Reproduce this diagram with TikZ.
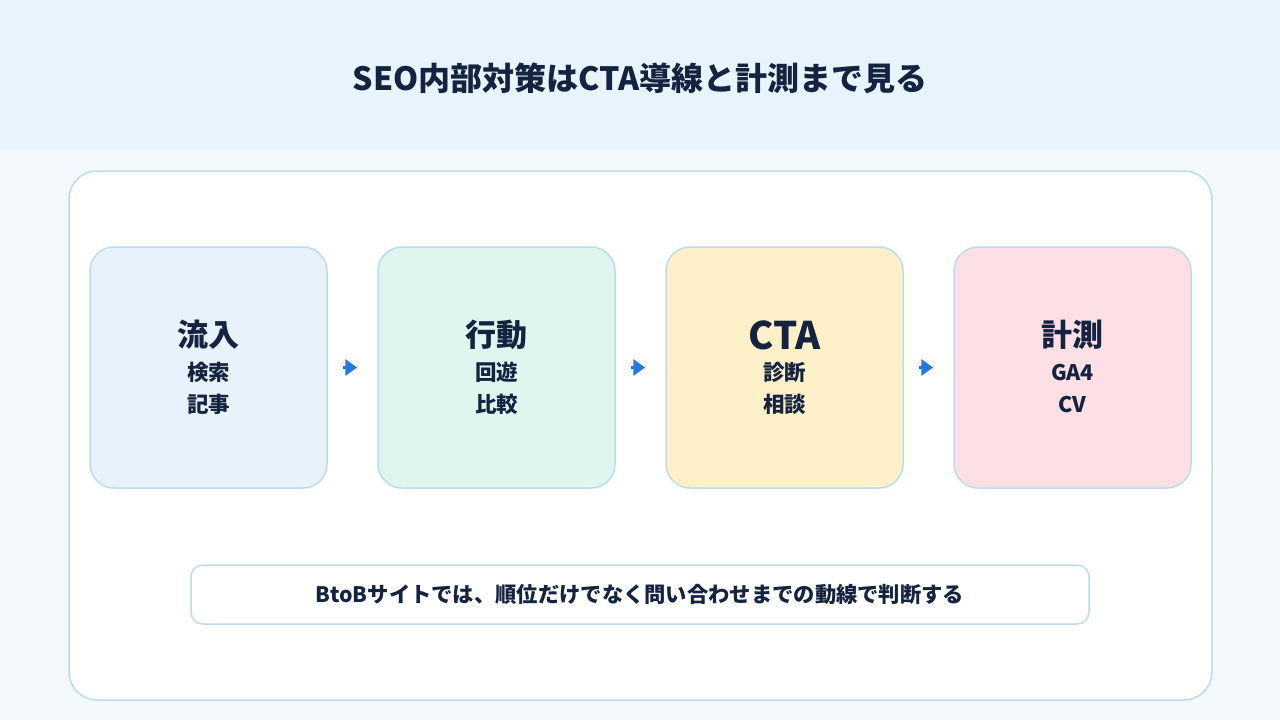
\documentclass[tikz,border=0pt]{standalone}
\usepackage{fontspec}
\setmainfont{Noto Sans CJK JP}
\usetikzlibrary{arrows.meta}

\definecolor{encre}{HTML}{14233F}
\definecolor{bandeau}{HTML}{E7F4FE}
\definecolor{fond}{HTML}{F4F9FD}
\definecolor{bord}{HTML}{BCDCEB}
\definecolor{fleche}{HTML}{2775E3}
\definecolor{bleuc}{HTML}{E8F2FD}
\definecolor{vertc}{HTML}{DFF6EF}
\definecolor{jaunec}{HTML}{FEF0C9}
\definecolor{rosec}{HTML}{FDE0E5}

\begin{document}
\begin{tikzpicture}[x=1pt, y=-1pt]

	% fond et bandeau du titre
	\fill[fond] (0,0) rectangle (1280,720);
	\fill[bandeau] (0,0) rectangle (1280,150);
	\useasboundingbox (0,0) rectangle (1280,720);

	\node[font=\fontsize{32}{36}\selectfont\bfseries, text=encre] (titre) at (640,78)
		{SEO内部対策はCTA導線と計測まで見る};

	% grand panneau blanc
	\draw[bord, fill=white, line width=1.5pt, rounded corners=28pt] (69,171) rectangle (1212,700);

	\tikzset{
		etape/.style={draw=bord, line width=1.5pt, rounded corners=24pt,
				minimum width=237pt, minimum height=241pt, inner sep=0pt},
		titreetape/.style={text=encre, font=\bfseries},
		sous/.style={text=encre, font=\fontsize{21.5}{24}\selectfont\bfseries},
		flux/.style={fleche, line width=3pt, -{Triangle[length=12pt, width=16pt]},
				shorten <=15pt, shorten >=20pt}
	}

	% les quatre etapes
	\foreach \i/\cx/\coul/\taille/\tete/\la/\lb in {
	1/208.5/bleuc/31/流入/検索/記事,
	2/496.5/vertc/31/行動/回遊/比較,
	3/784.5/jaunec/38/CTA/診断/相談,
	4/1072.5/rosec/31/計測/GA4/CV
	}{
	\node[etape, fill=\coul] (b\i) at (\cx,367.5) {};
	\node[titreetape, font=\fontsize{\taille}{\taille}\selectfont\bfseries] (h\i) at (\cx,335) {\tete};
	\node[sous] (sa\i) at (\cx,372) {\la};
	\node[sous] (sb\i) at (\cx,404) {\lb};
	}

	% fleches entre les etapes
	\foreach \i/\j in {1/2, 2/3, 3/4}{
		\draw[flux] (b\i.east) -- (b\j.west);
	}

	% message du bas
	\node[draw=bord, fill=white, line width=1.5pt, rounded corners=12pt,
		minimum width=898pt, minimum height=59pt, text=encre,
		font=\fontsize{21.3}{24}\selectfont\bfseries] (note) at (640,594.5)
		{BtoBサイトでは、順位だけでなく問い合わせまでの動線で判断する};

\end{tikzpicture}
\end{document}
